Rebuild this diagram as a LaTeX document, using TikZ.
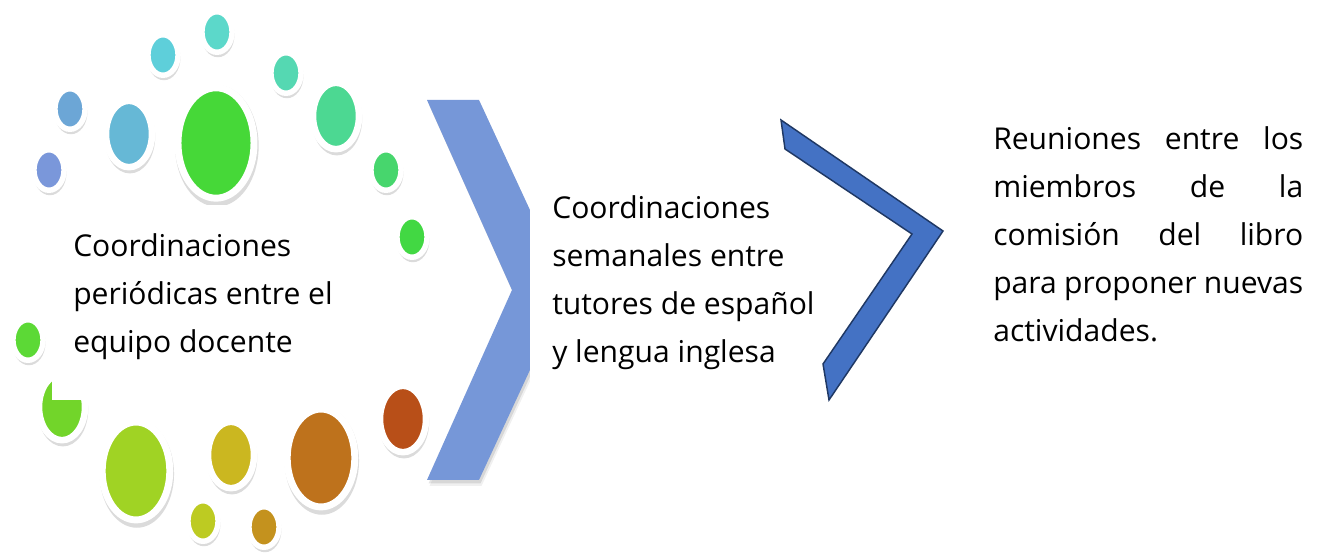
\documentclass[tikz,border=0pt]{standalone}
\usepackage{fontspec}
\setmainfont{Open Sans}
\usetikzlibrary{shapes.geometric,shadows}
\definecolor{cA}{HTML}{7A97DA}
\definecolor{cB}{HTML}{6CA6D6}
\definecolor{cC}{HTML}{66B8D6}
\definecolor{cD}{HTML}{5ECFDA}
\definecolor{cE}{HTML}{5CD8CA}
\definecolor{cF}{HTML}{46D838}
\definecolor{cG}{HTML}{55D8B2}
\definecolor{cH}{HTML}{4CD892}
\definecolor{cI}{HTML}{47D66D}
\definecolor{cJ}{HTML}{42D843}
\definecolor{cK}{HTML}{5CD936}
\definecolor{cL}{HTML}{72D52A}
\definecolor{cM}{HTML}{A0D324}
\definecolor{cN}{HTML}{BDCB22}
\definecolor{cO}{HTML}{CBB720}
\definecolor{cP}{HTML}{C4921E}
\definecolor{cQ}{HTML}{BE721C}
\definecolor{cR}{HTML}{B84F18}
\definecolor{chevA}{HTML}{7697D8}
\definecolor{chevB}{HTML}{4472C4}
\definecolor{chevBline}{HTML}{1F3864}
\newlength\cwid
\begin{document}
\settowidth{\cwid}{\fontsize{10pt}{12pt}\selectfont Coordinaciones}%
\pgfmathsetmacro\fsz{1635/\cwid}%
\begin{tikzpicture}[x=0.75pt,y=-0.75pt,
  dotnode/.style={ellipse, draw=white, inner sep=0pt, outer sep=0pt,
    drop shadow={shadow xshift=0.6pt, shadow yshift=-2pt, shadow scale=1.1, opacity=.2, fill=black!70}},
  dotS/.style={dotnode, minimum width=22.6pt, minimum height=30.4pt, line width=4.1pt},
  dotM/.style={dotnode, minimum width=34.5pt, minimum height=49.8pt, line width=4.9pt},
  dotL/.style={dotnode, minimum width=50.7pt, minimum height=73.4pt, line width=5.2pt},
  dotXL/.style={dotnode, minimum width=57pt, minimum height=82.8pt, line width=5.2pt},
  txt/.style={inner sep=0pt, anchor=base west, font=\fontsize{\fsz pt}{36pt}\selectfont}]
\useasboundingbox (0,0) rectangle (1321,555);
\fill[white] (0,0) rectangle (1321,555);
% circles
\node[dotS, fill=cA] (d1) at (49,170) {};
\node[dotS, fill=cB] (d2) at (70,109) {};
\node[dotM, fill=cC] (d3) at (129,134) {};
\node[dotS, fill=cD] (d4) at (163,55) {};
\node[dotS, fill=cE] (d5) at (217,32) {};
\node[dotXL, fill=cF] (d6) at (216,143) {};
\node[dotS, fill=cG] (d7) at (286,73) {};
\node[dotM, fill=cH] (d8) at (336,116) {};
\node[dotS, fill=cI] (d9) at (386,170) {};
\node[dotS, fill=cJ] (d10) at (412,237) {};
\node[dotS, fill=cK] (d11) at (28,340) {};
\node[dotM, fill=cL] (d12) at (62,407) {};
\node[dotL, fill=cM] (d13) at (136,471) {};
\node[dotS, fill=cN] (d14) at (203,521) {};
\node[dotM, fill=cO] (d15) at (231,455) {};
\node[dotS, fill=cP] (d16) at (264,527) {};
\node[dotL, fill=cQ] (d17) at (321,458) {};
\node[dotM, fill=cR] (d18) at (403,419) {};
% white text box of left text
\fill[white] (52,205) rectangle (372,400);
% light chevron with shadow
\fill[black, opacity=.06, shift={(2.5,6)}] (427,100) -- (479,100) -- (567,290) -- (479,480) -- (427,480) -- (512,290) -- cycle;
\fill[black, opacity=.10, shift={(1.5,3.5)}] (427,100) -- (479,100) -- (567,290) -- (479,480) -- (427,480) -- (512,290) -- cycle;
\fill[chevA] (427,100) -- (479,100) -- (567,290) -- (479,480) -- (427,480) -- (512,290) -- cycle;
% white text box of middle text
\fill[white] (530,190) rectangle (765,390);
% dark chevron
\filldraw[fill=chevB, draw=chevBline, line width=1.1pt, line join=miter] (781,120) -- (943,231) -- (829,400) -- (823,364) -- (912,234) -- (785,149) -- cycle;
% texts
\node[txt] (t1) at (73,257) {\vtop{\hbox{Coordinaciones}\hbox{periódicas entre el}\hbox{equipo docente}}};
\node[txt] (t2) at (552,218.5) {\vtop{\hbox{Coordinaciones}\hbox{semanales entre}\hbox{tutores de español}\hbox{y lengua inglesa}}};
\node[txt] (t3) at (993,150) {\vtop{\hsize=232.5pt
  \hbox to \hsize{Reuniones\hfill entre\hfill los}
  \hbox to \hsize{miembros\hfill de\hfill la}
  \hbox to \hsize{comisión\hfill del\hfill libro}
  \hbox to \hsize{para\hfill proponer\hfill nuevas}
  \hbox{actividades.}}};
\end{tikzpicture}
\end{document}
